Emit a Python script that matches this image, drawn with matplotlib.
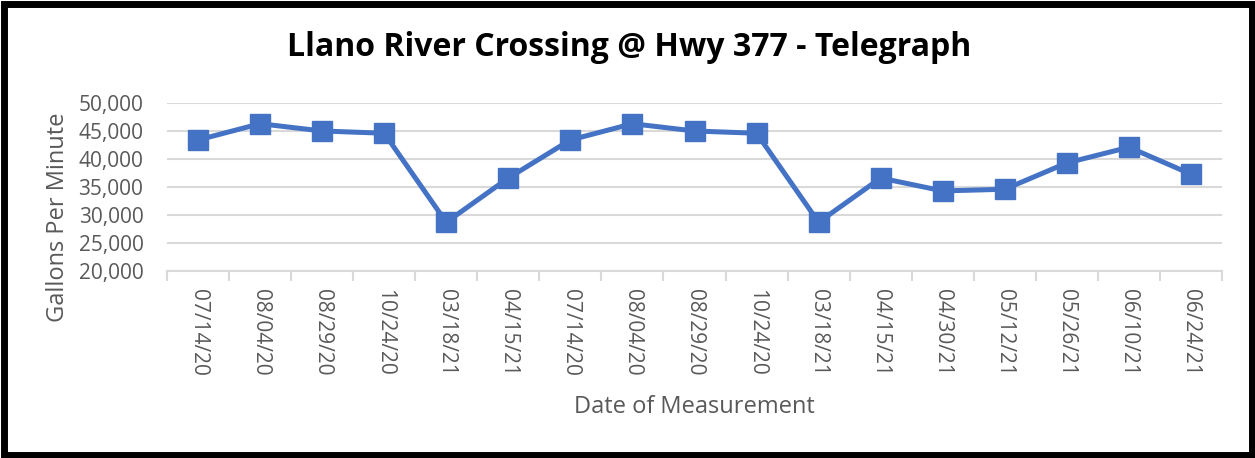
import matplotlib
matplotlib.use("Agg")
import matplotlib.pyplot as plt
from matplotlib.patches import Rectangle
from matplotlib.ticker import FuncFormatter, FixedLocator

# data
dates = ["07/14/20", "08/04/20", "08/29/20", "10/24/20", "03/18/21", "04/15/21",
         "07/14/20", "08/04/20", "08/29/20", "10/24/20", "03/18/21", "04/15/21",
         "04/30/21", "05/12/21", "05/26/21", "06/10/21", "06/24/21"]
gpm = [43400, 46300, 45000, 44600, 28700, 36600,
       43400, 46300, 45000, 44600, 28700, 36600,
       34300, 34600, 39300, 42100, 37300]
y_ticks = [20000, 25000, 30000, 35000, 40000, 45000, 50000]

title = "Llano River Crossing @ Hwy 377 - Telegraph"
x_label = "Date of Measurement"
y_label = "Gallons Per Minute"

line_color = "#4472C4"
grid_color = "#D9D9D9"
text_color = "#595959"

plt.rcParams['font.family'] = ['Open Sans', 'DejaVu Sans']

W, H = 1255, 458
fig = plt.figure(figsize=(W / 100, H / 100), dpi=100)
ax = fig.add_axes([167 / W, 1 - 271 / H, (1222 - 167) / W, (271 - 103) / H])

x = list(range(len(dates)))
ax.plot(x, gpm, color=line_color, linewidth=3.6, marker="s", markersize=15,
        markerfacecolor=line_color, markeredgecolor=line_color, zorder=3,
        solid_joinstyle="round")

ax.set_xlim(-0.5, len(dates) - 0.5)
ax.set_ylim(y_ticks[0], y_ticks[-1])
ax.set_yticks(y_ticks)
ax.yaxis.set_major_formatter(FuncFormatter(lambda v, p: f"{int(v):,}"))
ax.grid(axis="y", color=grid_color, linewidth=1.5)
ax.set_axisbelow(True)

ax.set_xticks(x)
ax.set_xticklabels(dates, rotation=-90, fontsize=15, color=text_color)
ax.xaxis.set_minor_locator(FixedLocator([i - 0.5 for i in range(len(dates) + 1)]))
ax.tick_params(axis="x", which="major", length=0, pad=13)
ax.tick_params(axis="x", which="minor", length=7, width=1.5, color=grid_color)
ax.tick_params(axis="y", length=0, pad=17, labelsize=15, labelcolor=text_color)

for side in ["top", "right", "left"]:
    ax.spines[side].set_visible(False)
ax.spines["bottom"].set_color(grid_color)
ax.spines["bottom"].set_linewidth(1.5)

ax.set_xlabel(x_label, fontsize=17, color=text_color, va="center")
ax.xaxis.set_label_coords(0.5, (271 - 407) / 168)
ax.set_ylabel(y_label, fontsize=17, color=text_color, va="center")
ax.yaxis.set_label_coords((58 - 167) / 1055, (271 - 217) / 168)
fig.text(629 / W, 1 - 48 / H, title, fontsize=23, fontweight="bold",
         ha="center", va="center", color="black")

# black frame around the whole picture
fig.patches.append(Rectangle((3.5 / W, 3.5 / H), 1 - 7 / W, 1 - 7 / H,
                             transform=fig.transFigure, fill=False,
                             edgecolor="black", linewidth=5))

fig.savefig("out.png", dpi=100, facecolor="white")
